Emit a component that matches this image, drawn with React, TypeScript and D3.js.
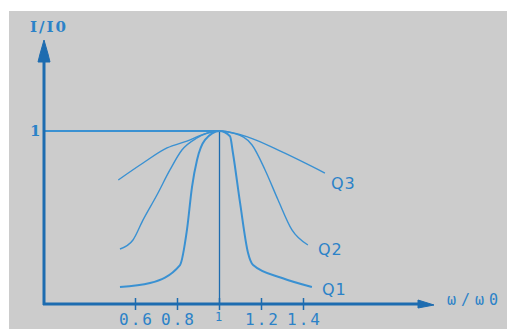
import React from "react";
import { scaleLinear, line, curveMonotoneX } from "d3";

// ratio w/w0 against relative current I/I0
const q3X = [0.518, 0.636, 0.75, 0.845, 0.94, 1.0, 1.136, 1.298, 1.502];
const q3Y = [0.717, 0.815, 0.902, 0.942, 0.988, 1.0, 0.965, 0.879, 0.757];

const q2X = [0.526, 0.588, 0.636, 0.702, 0.764, 0.821, 0.893, 1.0, 1.074, 1.155, 1.217, 1.279, 1.345, 1.421];
const q2Y = [0.318, 0.37, 0.486, 0.63, 0.775, 0.89, 0.96, 1.0, 0.985, 0.919, 0.775, 0.601, 0.428, 0.341];

const q1X = [0.526, 0.669, 0.812, 0.845, 0.869, 0.893, 0.931, 1.0, 1.05, 1.064, 1.098, 1.136, 1.16, 1.298, 1.44];
const q1Y = [0.098, 0.121, 0.225, 0.428, 0.676, 0.832, 0.948, 1.0, 0.97, 0.873, 0.584, 0.295, 0.225, 0.15, 0.098];

const seriesNames = ["Q3", "Q2", "Q1"];
const xTicks = [0.6, 0.8, 1, 1.2, 1.4];
const xTickLabels = ["0.6", "0.8", "1", "1.2", "1.4"];

const W = 507;
const H = 329;
const AXIS = "#1d6cb0";
const CURVE = "#3a91d2";
const TEXT = "#2b82c8";

export default function App() {
  const x = scaleLinear().domain([0.6, 1.4]).range([135.5, 303.5]);
  const y = scaleLinear().domain([0, 1]).range([304, 131]);

  const originX = 44;
  const originY = y(0);
  const axisEndX = 434;
  const axisTopY = 40;

  const series = [
    { name: seriesNames[0], xs: q3X, ys: q3Y, width: 1.4 },
    { name: seriesNames[1], xs: q2X, ys: q2Y, width: 1.4 },
    { name: seriesNames[2], xs: q1X, ys: q1Y, width: 2 },
  ];

  const lineGen = line<[number, number]>()
    .x((d) => x(d[0]))
    .y((d) => y(d[1]))
    .curve(curveMonotoneX);

  // where each label sits, next to the right end of its curve
  const labelOffset = [
    { dx: 6, dy: 16 },
    { dx: 10, dy: 10 },
    { dx: 10, dy: 8 },
  ];

  return (
    <svg
      width={W}
      height={H}
      style={{ position: "absolute", left: 0, top: 0 }}
      fontFamily="DejaVu Sans"
    >
      <rect x={0} y={0} width={W} height={H} fill="#ffffff" />
      <rect x={9} y={11} width={W - 9} height={H - 11} fill="#cccccc" />

      {/* reference line I/I0 = 1 and the centre line w/w0 = 1 */}
      <line x1={originX} x2={x(1)} y1={y(1)} y2={y(1)} stroke={CURVE} strokeWidth={2} />
      <line x1={x(1)} x2={x(1)} y1={y(1)} y2={originY} stroke={AXIS} strokeWidth={1.3} />

      {series.map((s, i) => {
        const pts = s.xs.map((v, j) => [v, s.ys[j]] as [number, number]);
        const last = pts[pts.length - 1];
        return (
          <g key={s.name}>
            <path d={lineGen(pts) ?? ""} fill="none" stroke={CURVE} strokeWidth={s.width} strokeLinejoin="round" />
            <text
              x={x(last[0]) + labelOffset[i].dx}
              y={y(last[1]) + labelOffset[i].dy}
              fill={TEXT}
              fontSize={16}
              letterSpacing={1}
            >
              {s.name}
            </text>
          </g>
        );
      })}

      {/* axes */}
      <line x1={originX} x2={originX} y1={originY + 1} y2={axisTopY + 10} stroke={AXIS} strokeWidth={3} />
      <path
        d={`M${originX},${axisTopY} L${originX - 4},${axisTopY + 14} L${originX - 6},${axisTopY + 22} L${originX + 6},${axisTopY + 22} L${originX + 4},${axisTopY + 14} Z`}
        fill={AXIS}
        stroke={AXIS}
        strokeWidth={1}
        strokeLinejoin="round"
      />
      <line x1={originX - 1} x2={axisEndX - 12} y1={originY} y2={originY} stroke={AXIS} strokeWidth={3} />
      <path
        d={`M${axisEndX},${originY + 1} L${axisEndX - 16},${originY - 4} L${axisEndX - 16},${originY + 4} Z`}
        fill={AXIS}
        stroke={AXIS}
        strokeWidth={1}
      />

      {xTicks.map((t, i) => (
        <g key={t}>
          <line x1={x(t)} x2={x(t)} y1={originY - 6} y2={originY + 6} stroke={AXIS} strokeWidth={1.5} />
          <text
            x={x(t) + (t === 1 ? 0 : 1)}
            y={t === 1 ? 321 : 325}
            textAnchor="middle"
            fill={TEXT}
            fontFamily="DejaVu Sans Mono"
            fontSize={t === 1 ? 12 : 16}
            letterSpacing={2}
          >
            {xTickLabels[i]}
          </text>
        </g>
      ))}

      <text x={30} y={136} fill={TEXT} fontFamily="DejaVu Serif" fontWeight="bold" fontSize={15}>
        1
      </text>
      <text x={30} y={32} fill={TEXT} fontFamily="DejaVu Serif" fontWeight="bold" fontSize={15} letterSpacing={2}>
        I/I0
      </text>
      <text x={447} y={305} fill={TEXT} fontFamily="DejaVu Sans Mono" fontSize={15} letterSpacing={5}>
        ω/ω0
      </text>
    </svg>
  );
}
